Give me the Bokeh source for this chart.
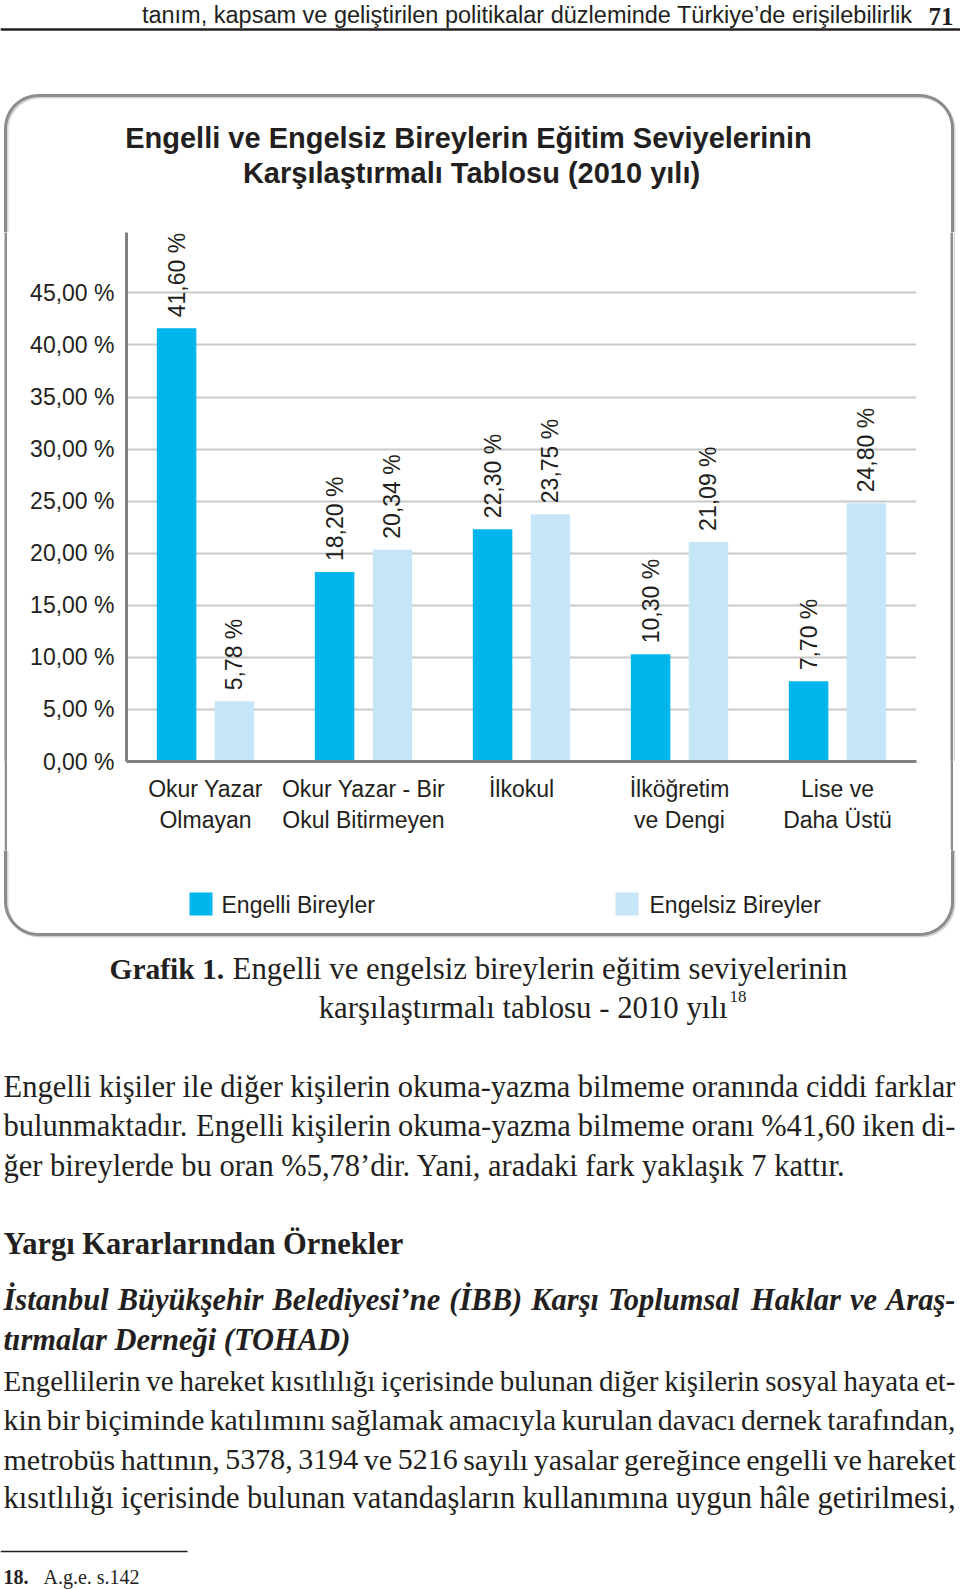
import math
import numpy as np
from bokeh.plotting import figure
from bokeh.models import ColumnDataSource, FactorRange, Range1d, FixedTicker, LabelSet
from bokeh.layouts import column, row
from bokeh.transform import dodge
from bokeh.core.properties import value
from bokeh.embed import file_html
from bokeh.resources import INLINE

# ---------------- data ----------------
categories = ["Okur Yazar\nOlmayan", "Okur Yazar - Bir\nOkul Bitirmeyen", "İlkokul",
              "İlköğretim\nve Dengi", "Lise ve\nDaha Üstü"]
engelli = [41.60, 18.20, 22.30, 10.30, 7.70]
engelsiz = [5.78, 20.34, 23.75, 21.09, 24.80]
series_names = ["Engelli Bireyler", "Engelsiz Bireyler"]
y_ticks = [0, 5, 10, 15, 20, 25, 30, 35, 40, 45]
y_tick_labels = ["0,00 %", "5,00 %", "10,00 %", "15,00 %", "20,00 %", "25,00 %",
                 "30,00 %", "35,00 %", "40,00 %", "45,00 %"]
Y_END = 50.8

chart_title = ["Engelli ve Engelsiz Bireylerin Eğitim Seviyelerinin",
               "Karşılaştırmalı Tablosu (2010 yılı)"]
header_text = "tanım, kapsam ve geliştirilen politikalar düzleminde Türkiye’de erişilebilirlik"
page_no = "71"
caption_bold = "Grafik 1."
caption_l1 = "Engelli ve engelsiz bireylerin eğitim seviyelerinin"
caption_l2 = "karşılaştırmalı tablosu - 2010 yılı"
caption_sup = "18"
body1 = ["Engelli kişiler ile diğer kişilerin okuma-yazma bilmeme oranında ciddi farklar",
         "bulunmaktadır. Engelli kişilerin okuma-yazma bilmeme oranı %41,60 iken di-",
         "ğer bireylerde bu oran %5,78’dir. Yani, aradaki fark yaklaşık 7 kattır."]
heading = "Yargı Kararlarından Örnekler"
italic_lines = ["İstanbul Büyükşehir Belediyesi’ne (İBB) Karşı Toplumsal Haklar ve Araş-",
                "tırmalar Derneği (TOHAD)"]
body2 = ["Engellilerin ve hareket kısıtlılığı içerisinde bulunan diğer kişilerin sosyal hayata et-",
         "kin bir biçiminde katılımını sağlamak amacıyla kurulan davacı dernek tarafından,",
         "metrobüs hattının, 5378, 3194 ve 5216 sayılı yasalar gereğince engelli ve hareket",
         "kısıtlılığı içerisinde bulunan vatandaşların kullanımına uygun hâle getirilmesi,"]
foot_num = "18."
foot_text = "A.g.e. s.142"

# ---------------- styles ----------------
C_ENG = "#00b4ec"
C_NON = "#c6e6f7"
GRID = "#c9c9c9"
AXIS = "#808080"
INK = "#231f20"
BOX = "#8c8c8c"
SANS = "Liberation Sans"
SERIF = "Liberation Serif"

# Times-compatible advance widths (per 1000 em) for justification
TR = {' ': 250, '%': 833, "'": 333, '’': 333, '(': 333, ')': 333, ',': 250, '-': 333, '.': 250,
      'A': 722, 'B': 667, 'C': 667, 'D': 722, 'E': 611, 'F': 556, 'G': 722, 'H': 722, 'I': 333,
      'K': 722, 'L': 611, 'M': 889, 'N': 722, 'O': 722, 'P': 556, 'R': 667, 'S': 556, 'T': 611,
      'U': 722, 'Y': 722, 'a': 444, 'b': 500, 'c': 444, 'd': 500, 'e': 444, 'f': 333, 'g': 500,
      'h': 500, 'i': 278, 'j': 278, 'k': 500, 'l': 278, 'm': 778, 'n': 500, 'o': 500, 'p': 500,
      'r': 333, 's': 389, 't': 278, 'u': 500, 'v': 500, 'w': 722, 'y': 500, 'z': 444,
      'ı': 278, 'ş': 389, 'ğ': 500, 'ç': 444, 'ö': 500, 'ü': 500, 'â': 444, 'İ': 333}
TBI = {' ': 250, "'": 333, '’': 333, '(': 333, ')': 333, '-': 333,
       'A': 667, 'B': 667, 'D': 722, 'H': 778, 'K': 667, 'O': 722, 'T': 611, 'İ': 389,
       'a': 500, 'b': 500, 'd': 500, 'e': 444, 'h': 556, 'i': 278, 'k': 500, 'l': 278, 'm': 778,
       'n': 556, 'o': 500, 'p': 500, 'r': 389, 's': 389, 't': 278, 'u': 556, 'v': 444, 'y': 444,
       'ı': 278, 'ş': 389, 'ğ': 500, 'ü': 556}

PW = 960


def page_fig(x0, x1, y0, y1, bg="white"):
    p = figure(width=x1 - x0, height=y1 - y0, x_range=Range1d(x0, x1), y_range=Range1d(y1, y0),
               output_backend="svg", toolbar_location=None, min_border=0,
               x_axis_location=None, y_axis_location=None)
    p.grid.visible = False
    p.outline_line_color = None
    p.background_fill_color = bg
    p.border_fill_color = bg
    return p


def txt(p, x, y, s, size, font=SERIF, style="normal", align="left", baseline="middle", color=INK):
    p.text(x=[x], y=[y], text=[s], text_font=value(font), text_font_size=value(f"{size}px"),
           text_font_style=value(style), text_align=value(align), text_baseline=value(baseline),
           text_color=color)


def justify(p, line, y, x0, x1, size, table, style="normal"):
    words = line.split(" ")
    ws = [sum(table.get(c, 500) for c in w) * size / 1000 for w in words]
    gap = (x1 - x0 - sum(ws)) / (len(words) - 1)
    xs, x = [], x0
    for w in ws:
        xs.append(x)
        x += w + gap
    n = len(words)
    p.text(x=xs[:-1], y=[y] * (n - 1), text=words[:-1], text_font=value(SERIF),
           text_font_size=value(f"{size}px"), text_font_style=value(style),
           text_align=value("left"), text_baseline=value("middle"), text_color=INK)
    txt(p, x1, y, words[-1], size, style=style, align="right")


# rounded frame around the chart
BX0, BX1, BY0, BY1, BR = 5, 952, 95, 934, 33


def box_path():
    pts = []
    for cx, cy, a0 in [(BX1 - BR, BY0 + BR, -90), (BX1 - BR, BY1 - BR, 0),
                       (BX0 + BR, BY1 - BR, 90), (BX0 + BR, BY0 + BR, 180)]:
        for t in np.linspace(a0, a0 + 90, 16):
            pts.append((cx + BR * math.cos(math.radians(t)), cy + BR * math.sin(math.radians(t))))
    pts.append(pts[0])
    return [q[0] for q in pts], [q[1] for q in pts]


def draw_box(p):
    xs, ys = box_path()
    p.line([x + 1.5 for x in xs], [y + 1.5 for y in ys], line_color="#d4d4d4", line_width=3)
    p.line(xs, ys, line_color=BOX, line_width=3)


# ---------------- top strip: header + chart title ----------------
ROW0, ROW1 = 232, 850
top = page_fig(0, PW, 0, ROW0)
draw_box(top)
txt(top, 912, 14.5, header_text, 23.5, font=SANS, align="right")
txt(top, 953, 15.5, page_no, 25, style="bold", align="right")
top.line([0, PW], [29, 29], line_color=INK, line_width=2.5)
txt(top, 468, 137, chart_title[0], 29, font=SANS, style="bold", align="center")
txt(top, 471, 172, chart_title[1], 29, font=SANS, style="bold", align="center")

# ---------------- chart ----------------
fmt = lambda v: f"{v:.2f}".replace(".", ",") + " %"
src = ColumnDataSource(dict(cat=categories, engelli=engelli, engelsiz=engelsiz,
                            engelli_lbl=[fmt(v) for v in engelli],
                            engelsiz_lbl=[fmt(v) for v in engelsiz]))

CX0, CX1 = 7, 950          # chart figure spans between the two box sides
p = figure(x_range=FactorRange(factors=categories), y_range=Range1d(0, Y_END),
           width=CX1 - CX0, height=ROW1 - ROW0, output_backend="svg", toolbar_location=None,
           min_border_left=126 - CX0, min_border_right=CX1 - 916, min_border_top=0,
           min_border_bottom=ROW1 - 761)
p.outline_line_color = None
p.background_fill_color = "white"
p.border_fill_color = "white"
p.xgrid.visible = False
p.ygrid.ticker = FixedTicker(ticks=y_ticks[1:] + [Y_END])
p.ygrid.grid_line_color = GRID
p.ygrid.grid_line_width = 2

for ax in (p.xaxis[0], p.yaxis[0]):
    ax.axis_line_color = AXIS
    ax.axis_line_width = 3
    ax.major_tick_line_color = None
    ax.minor_tick_line_color = None
    ax.major_tick_out = 0
    ax.major_tick_in = 0
    ax.major_label_text_font = SANS
    ax.major_label_text_font_size = "23px"
    ax.major_label_text_color = INK
    ax.major_label_standoff = 12
p.xaxis.major_label_standoff = 14
p.xaxis.major_label_text_line_height = 1.2
p.yaxis.ticker = FixedTicker(ticks=y_ticks)
p.yaxis.major_label_overrides = dict(zip(y_ticks, y_tick_labels))

DODGE = 0.183
BAR_W = 0.25
p.vbar(x=dodge("cat", -DODGE, range=p.x_range), top="engelli", width=BAR_W, source=src,
       fill_color=C_ENG, line_color=None)
p.vbar(x=dodge("cat", DODGE, range=p.x_range), top="engelsiz", width=BAR_W, source=src,
       fill_color=C_NON, line_color=None)
for off, col in [(-DODGE, "engelli"), (DODGE, "engelsiz")]:
    p.add_layout(LabelSet(x=dodge("cat", off, range=p.x_range), y=col, text=col + "_lbl",
                          source=src, angle=math.pi / 2, y_offset=11,
                          text_align="left", text_baseline="middle",
                          text_font=value(SANS), text_font_size=value("23px"), text_color=INK))

# box sides beside the chart: thin filled strips
s1 = page_fig(0, 4, ROW0, ROW1)
s2 = page_fig(4, CX0, ROW0, ROW1, bg=BOX)
s3 = page_fig(CX1, 953, ROW0, ROW1, bg=BOX)
s4 = page_fig(953, PW, ROW0, ROW1)
s4.quad(left=[953], right=[954.5], top=[ROW0], bottom=[ROW1], fill_color="#d4d4d4", line_color=None)

# ---------------- bottom strip: legend, caption, body text ----------------
bot = page_fig(0, PW, ROW1, 1589)
draw_box(bot)
bot.quad(left=[189, 615], right=[212, 638], top=[892, 892], bottom=[915, 915],
         fill_color=[C_ENG, C_NON], line_color=None)
bot.text(x=[221, 649], y=[904, 904], text=series_names, text_font=value(SANS),
         text_font_size=value("23px"), text_baseline=value("middle"), text_color=INK)

txt(bot, 109, 968, caption_bold, 29.5, style="bold")
txt(bot, 847, 968, caption_l1, 30.8, align="right")
txt(bot, 727, 1007, caption_l2, 30.8, align="right")
txt(bot, 729, 996, caption_sup, 17)

LX0, LX1 = 3, 955
FS = 30.5
justify(bot, body1[0], 1086, LX0, LX1, FS, TR)
justify(bot, body1[1], 1125, LX0, LX1, FS, TR)
txt(bot, LX0, 1165, body1[2], FS)
txt(bot, LX0, 1243, heading, FS, style="bold")
justify(bot, italic_lines[0], 1299, LX0, LX1, FS, TBI, style="bold italic")
txt(bot, LX0, 1339, italic_lines[1], FS, style="bold italic")
for ln, yy, fs in zip(body2, [1380, 1419, 1459, 1497], [29, 29.8, 30, FS]):
    justify(bot, ln, yy, LX0, LX1, fs, TR)
bot.line([0, 187], [1551, 1551], line_color=INK, line_width=1.5)
txt(bot, 3, 1576, foot_num, 20, style="bold")
txt(bot, 43, 1576, foot_text, 20)

layout = column(top, row(s1, s2, p, s3, s4), bot)
open("out.html", "w").write(file_html(layout, INLINE))
